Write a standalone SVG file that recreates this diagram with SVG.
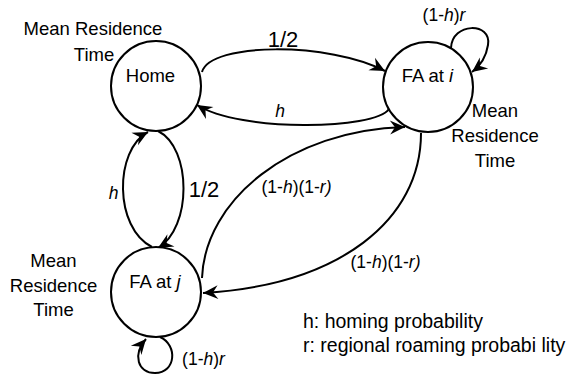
<svg xmlns="http://www.w3.org/2000/svg" width="569" height="377" viewBox="0 0 569 377">
<style>
text{font-family:"Liberation Sans",Arial,sans-serif;font-size:18.5px;fill:#000}
.node{fill:#fff;stroke:#000;stroke-width:2}
.edge{fill:none;stroke:#000;stroke-width:2}
.lab{font-size:17.5px}
.big{font-size:22px}
.leg{font-size:19.5px}
.i{font-style:italic}
</style>
<defs>
<marker id="arr" markerUnits="userSpaceOnUse" markerWidth="20" markerHeight="16" viewBox="-16 -8 18 16" refX="0" refY="0" orient="auto">
<path d="M0,0 L-15,-7 L-10,0 L-15,7 Z" fill="#000"/>
</marker>
</defs>
<rect width="569" height="377" fill="#fff"/>
<g id="connectors">
<path class="edge" d="M202,72 C210,42 330,42 385,71" marker-end="url(#arr)"/>
<path class="edge" d="M389,109 C375,130 240,132 197,105" marker-end="url(#arr)"/>
<path class="edge" d="M152,247 C114,228 114,150 148,132" marker-end="url(#arr)"/>
<path class="edge" d="M158,131 C192,148 192,228 158,248" marker-end="url(#arr)"/>
<path class="edge" d="M202,278 C205,200 290,130 405,127" marker-end="url(#arr)"/>
<path class="edge" d="M421,133 C421,220 340,285 203,293" marker-end="url(#arr)"/>
<path class="edge" d="M451,48 C452,22 492,22 488,45 C486,58 480,66 472,72" marker-end="url(#arr)"/>
<path class="edge" d="M160,337 C178,345 176,373 155,373 C138,373 132,355 146,339" marker-end="url(#arr)"/>
<text class="big" x="283" y="47" text-anchor="middle">1/2</text>
<text class="lab" x="280" y="117" text-anchor="middle"><tspan class="i">h</tspan></text>
<text class="lab" x="113.5" y="199" text-anchor="middle"><tspan class="i">h</tspan></text>
<text class="big" x="204" y="197" text-anchor="middle">1/2</text>
<text class="lab" x="296.5" y="193" text-anchor="middle">(1-<tspan class="i">h</tspan>)(1-<tspan class="i">r)</tspan></text>
<text class="lab" x="385.5" y="268" text-anchor="middle">(1-<tspan class="i">h</tspan>)(1-<tspan class="i">r)</tspan></text>
<text class="lab" x="444" y="21" text-anchor="middle">(1-<tspan class="i">h</tspan>)<tspan class="i">r</tspan></text>
<text class="lab" x="203.5" y="365" text-anchor="middle">(1-<tspan class="i">h</tspan>)<tspan class="i">r</tspan></text>
</g>
<g id="home">
<circle class="node" cx="156" cy="86" r="45"/>
<text x="150.5" y="82" text-anchor="middle">Home</text>
<text x="93" y="35" text-anchor="middle">Mean Residence</text>
<text x="94" y="61" text-anchor="middle">Time</text>
</g>
<g id="fa-i">
<circle class="node" cx="428" cy="87" r="45"/>
<text x="427.5" y="82" text-anchor="middle">FA at <tspan class="i">i</tspan></text>
<text x="495" y="117" text-anchor="middle">Mean</text>
<text x="495" y="142" text-anchor="middle">Residence</text>
<text x="495" y="167" text-anchor="middle">Time</text>
</g>
<g id="fa-j">
<circle class="node" cx="156" cy="292" r="45"/>
<text x="155" y="288" text-anchor="middle">FA at <tspan class="i">j</tspan></text>
<text x="53.5" y="267" text-anchor="middle">Mean</text>
<text x="53.5" y="292" text-anchor="middle">Residence</text>
<text x="53.5" y="316" text-anchor="middle">Time</text>
</g>
<g id="legend">
<text class="leg" x="303" y="328">h: homing probability</text>
<text class="leg" x="303" y="352">r: regional roaming probabi lity</text>
</g>
</svg>
